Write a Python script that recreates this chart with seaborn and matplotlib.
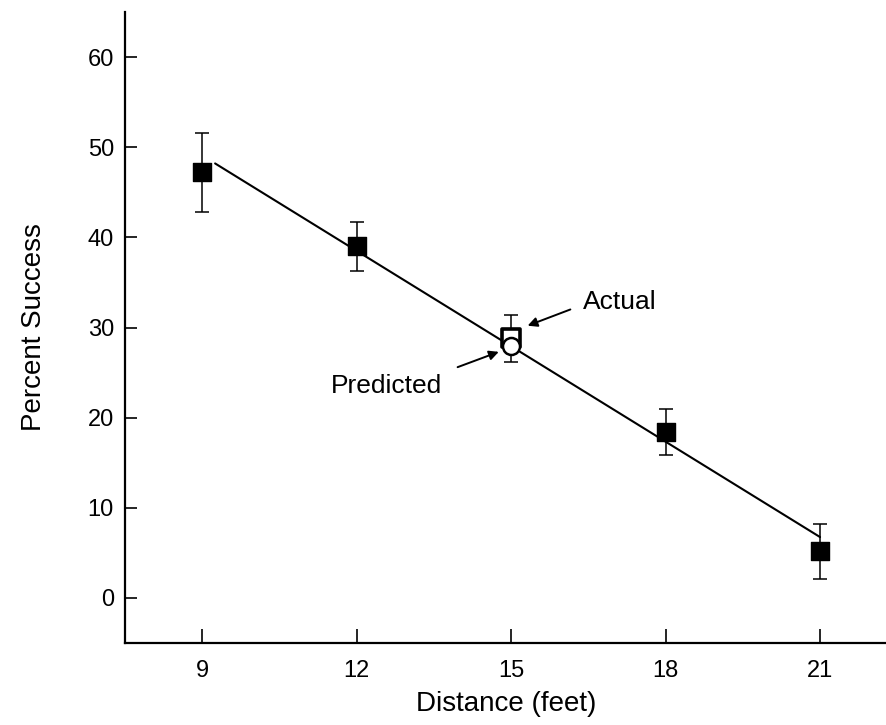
import matplotlib
matplotlib.use("Agg")
import matplotlib.pyplot as plt
import seaborn as sns
import pandas as pd

# ---- data ----
distance = [9, 12, 18, 21]
percent_success = [47.2, 39.0, 18.4, 5.2]
error = [4.4, 2.75, 2.55, 3.05]

actual_x = [15]
actual_y = [28.8]
actual_err = [2.6]

predicted_x = [15]
predicted_y = [28.0]

fit_x = [9.25, 21.0]
fit_y = [48.2, 6.75]

x_ticks = [9, 12, 15, 18, 21]
y_ticks = [0, 10, 20, 30, 40, 50, 60]

sns.set_style("ticks")
plt.rcParams['font.family'] = ['Liberation Sans', 'DejaVu Sans']
plt.rcParams['text.color'] = 'black'
plt.rcParams['axes.labelcolor'] = 'black'
plt.rcParams['xtick.color'] = 'black'
plt.rcParams['ytick.color'] = 'black'

fig = plt.figure(figsize=(8.87, 7.25), dpi=100)
ax = fig.add_axes([125 / 887, (725 - 643) / 725, 1 - 125 / 887, (643 - 12) / 725])

df_fit = pd.DataFrame({"x": fit_x, "y": fit_y})
sns.lineplot(data=df_fit, x="x", y="y", ax=ax, color="black", linewidth=1.5, zorder=2)

# error bars
ax.errorbar(distance, percent_success, yerr=error, fmt="none", ecolor="black",
            elinewidth=1.1, capsize=4.7, capthick=1.1, zorder=1)
ax.errorbar(actual_x, actual_y, yerr=actual_err, fmt="none", ecolor="black",
            elinewidth=1.1, capsize=4.7, capthick=1.1, zorder=1)

df_pts = pd.DataFrame({"x": distance, "y": percent_success})
sns.scatterplot(data=df_pts, x="x", y="y", ax=ax, marker="s", s=160,
                color="black", edgecolor="black", linewidth=1, zorder=3)

df_act = pd.DataFrame({"x": actual_x, "y": actual_y})
sns.scatterplot(data=df_act, x="x", y="y", ax=ax, marker="s", s=160,
                facecolor="white", edgecolor="black", linewidth=2.6, zorder=4)
df_pred = pd.DataFrame({"x": predicted_x, "y": predicted_y})
sns.scatterplot(data=df_pred, x="x", y="y", ax=ax, marker="o", s=150,
                facecolor="white", edgecolor="black", linewidth=1.8, zorder=5)

# annotations
arrow_kw = dict(arrowstyle="-|>", color="black", lw=1.4,
                mutation_scale=14, shrinkA=0, shrinkB=0)
ax.text(16.4, 32.8, "Actual", fontsize=19, ha="left", va="center")
ax.annotate("", xy=(15.32, 30.2), xytext=(16.15, 32.0), arrowprops=arrow_kw)
ax.text(12.58, 23.5, "Predicted", fontsize=19, ha="center", va="center")
ax.annotate("", xy=(14.76, 27.3), xytext=(13.96, 25.6), arrowprops=arrow_kw)

ax.set_xlim(7.5, 22.3)
ax.set_ylim(-5, 65)
ax.set_xticks(x_ticks)
ax.set_yticks(y_ticks)
ax.set_xticklabels([str(t) for t in x_ticks], fontsize=17)
ax.set_yticklabels([str(t) for t in y_ticks], fontsize=17)

ax.tick_params(axis="y", direction="in", length=8.6, width=1.2, pad=8)
ax.tick_params(axis="x", direction="in", length=10, width=1.2, pad=12)

for s in ["top", "right"]:
    ax.spines[s].set_visible(False)
for s in ["left", "bottom"]:
    ax.spines[s].set_linewidth(1.6)
    ax.spines[s].set_color("black")

ax.set_xlabel("Distance (feet)", fontsize=20, labelpad=7)
ax.set_ylabel("Percent Success", fontsize=20, labelpad=29)

fig.savefig("out.png", dpi=100)
